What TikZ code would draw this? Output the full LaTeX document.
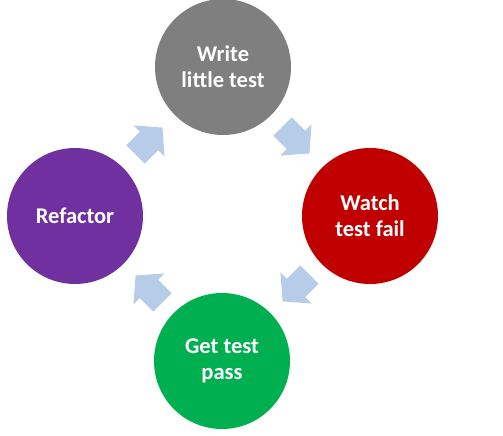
\documentclass[tikz,border=0pt]{standalone}
\usepackage{fontspec}
\setmainfont{Carlito}
\definecolor{cgray}{HTML}{7F7F7F}
\definecolor{cred}{HTML}{C00000}
\definecolor{cgreen}{HTML}{00B050}
\definecolor{cpurple}{HTML}{7030A0}
\definecolor{arrowblue}{HTML}{B6CCE8}
\tikzset{
  stage/.style={circle, minimum size=136pt, inner sep=0pt, text=white, font=\fontsize{22.5}{26}\selectfont\bfseries, align=center},
  cyclearrow/.style={fill=arrowblue, draw=none}
}
\newcommand{\blockarrow}[2]{%
  \fill[arrowblue, shift={#1}, rotate=#2] (-19,-13) -- (0,-13) -- (0,-22) -- (19,0) -- (0,22) -- (0,13) -- (-19,13) -- cycle;}
\begin{document}
\begin{tikzpicture}[x=1pt,y=1pt]
\useasboundingbox (0,0) rectangle (503,436);
\node[stage, fill=cgray]   (write)    at (223,369) {Write\\little test};
\node[stage, fill=cred]    (watch)    at (370,220) {Watch\\test fail};
\node[stage, fill=cgreen]  (pass)     at (222,75)  {Get test\\pass};
\node[stage, fill=cpurple] (refactor) at (75,220)  {Refactor};
\blockarrow{(296,296)}{-45}
\blockarrow{(296,148)}{-135}
\blockarrow{(149,147)}{135}
\blockarrow{(149,295)}{45}
\end{tikzpicture}
\end{document}
